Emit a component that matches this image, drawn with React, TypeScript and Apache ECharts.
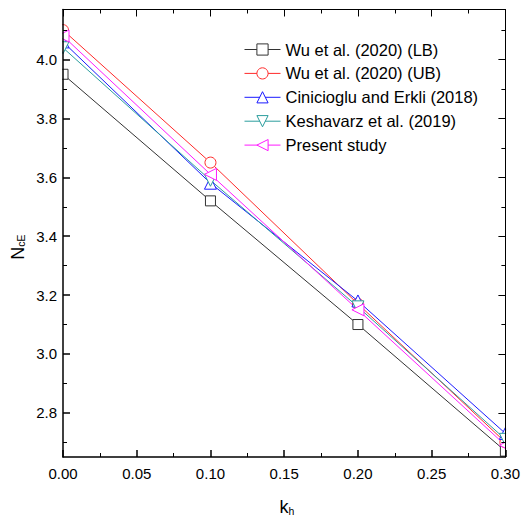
import React, { useEffect, useRef } from "react";
import * as echarts from "echarts";

const kh = [0, 0.1, 0.2, 0.3];
const wuLB = [3.95, 3.52, 3.1, 2.67];
const wuUB = [4.1, 3.65, 3.17, 2.7];
const cinicioglu = [4.06, 3.58, 3.18, 2.73];
const keshavarz = [4.04, 3.59, 3.16, 2.71];
const present = [4.08, 3.61, 3.15, 2.69];

const seriesNames = [
  "Wu et al. (2020) (LB)",
  "Wu et al. (2020) (UB)",
  "Cinicioglu and Erkli (2018)",
  "Keshavarz et al. (2019)",
  "Present study",
];

const yMajorTicks = [2.8, 3.0, 3.2, 3.4, 3.6, 3.8, 4.0];
const yMinorTicks = [2.7, 2.9, 3.1, 3.3, 3.5, 3.7, 3.9, 4.1];

const X_MIN = 0;
const X_MAX = 0.3;
const Y_MIN = 2.65;
const Y_MAX = 4.17;

const FONT = "'Liberation Sans', Arial, sans-serif";

export default function App() {
  const ref = useRef<HTMLDivElement>(null);
  useEffect(() => {
    if (!ref.current) return;
    const chart = echarts.init(ref.current, undefined, { renderer: "svg" });

    const mk = (
      name: string,
      vals: number[],
      color: string,
      symbol: string,
      rotate: number,
      size: number
    ) => ({
      name,
      type: "line",
      data: kh.map((x, i) => [x, vals[i]]),
      symbol,
      symbolRotate: rotate,
      symbolSize: size,
      showSymbol: true,
      lineStyle: { color, width: 1 },
      itemStyle: { color: "#ffffff", borderColor: color, borderWidth: 1 },
      z: 2,
      xAxisIndex: 0,
      yAxisIndex: 0,
    });

    const yBase = {
      type: "value",
      min: Y_MIN,
      max: Y_MAX,
      splitLine: { show: false },
      z: 100,
    };
    const xBase = {
      type: "value",
      min: X_MIN,
      max: X_MAX,
      interval: 0.05,
      splitLine: { show: false },
      z: 100,
    };

    // white masks left and right of the plot frame, so that markers sitting on
    // the frame are cut in half as in the reference
    const maskSeries = {
      type: "custom",
      name: "__mask",
      silent: true,
      z: 50,
      clip: false,
      xAxisIndex: 0,
      yAxisIndex: 0,
      data: [[X_MIN, Y_MIN]],
      renderItem: (_params: any, api: any) => {
        const pl = api.coord([X_MIN, Y_MAX]);
        const pr = api.coord([X_MAX, Y_MIN]);
        return {
          type: "group",
          children: [
            {
              type: "rect",
              shape: { x: 0, y: 0, width: pl[0] - 0.7, height: 600 },
              style: { fill: "#ffffff" },
            },
            {
              type: "rect",
              shape: { x: pr[0] + 0.7, y: 0, width: 40, height: 600 },
              style: { fill: "#ffffff" },
            },
          ],
        };
      },
    };

    chart.setOption({
      animation: false,
      backgroundColor: "#ffffff",
      grid: { left: 63, right: 15, top: 9.5, bottom: 61 },
      xAxis: [
        {
          ...xBase,
          position: "bottom",
          axisLine: { show: true, lineStyle: { color: "#000", width: 1.5 } },
          axisTick: { show: true, inside: true, length: 7, lineStyle: { color: "#000", width: 1.5 } },
          minorTick: { show: true, splitNumber: 2, length: 4, lineStyle: { color: "#000", width: 1 } },
          axisLabel: {
            formatter: (v: number) => v.toFixed(2),
            fontSize: 15,
            color: "#000",
            fontFamily: FONT,
            margin: 9,
          },
        },
        {
          ...xBase,
          position: "top",
          axisLine: { show: true, lineStyle: { color: "#000", width: 1 } },
          axisTick: { show: true, inside: true, length: 7, lineStyle: { color: "#000", width: 1 } },
          minorTick: { show: true, splitNumber: 2, length: 4, lineStyle: { color: "#000", width: 1 } },
          axisLabel: { show: false },
        },
      ],
      yAxis: [
        {
          ...yBase,
          position: "left",
          axisLine: { show: true, lineStyle: { color: "#000", width: 1.5 } },
          axisTick: { show: true, inside: true, length: 7, customValues: yMajorTicks, lineStyle: { color: "#000", width: 1.5 } },
          axisLabel: {
            customValues: yMajorTicks,
            formatter: (v: number) => v.toFixed(1),
            fontSize: 15,
            color: "#000",
            fontFamily: FONT,
            margin: 6,
          },
        },
        {
          ...yBase,
          position: "left",
          axisLine: { show: false },
          axisTick: { show: true, inside: true, length: 4, customValues: yMinorTicks, lineStyle: { color: "#000", width: 1 } },
          axisLabel: { show: false },
        },
        {
          ...yBase,
          position: "right",
          axisLine: { show: true, lineStyle: { color: "#000", width: 1 } },
          axisTick: { show: true, inside: true, length: 7, customValues: yMajorTicks, lineStyle: { color: "#000", width: 1 } },
          axisLabel: { show: false },
        },
        {
          ...yBase,
          position: "right",
          axisLine: { show: false },
          axisTick: { show: true, inside: true, length: 4, customValues: yMinorTicks, lineStyle: { color: "#000", width: 1 } },
          axisLabel: { show: false },
        },
      ],
      legend: {
        orient: "vertical",
        left: 244,
        top: 41,
        padding: 0,
        itemWidth: 36,
        itemHeight: 14,
        itemGap: 6.9,
        z: 100,
        data: seriesNames,
        itemStyle: { borderWidth: 1 },
        lineStyle: { width: 1 },
        textStyle: { fontSize: 16.5, color: "#000", fontFamily: FONT, lineHeight: 14 },
      },
      graphic: [
        {
          type: "text",
          z: 100,
          x: 18,
          y: 247,
          rotation: Math.PI / 2,
          style: {
            text: "{n|N}{s|cE}",
            align: "center",
            verticalAlign: "middle",
            rich: {
              n: { fontSize: 18, fontFamily: FONT, fill: "#000", color: "#000" },
              s: { fontSize: 10.5, fontFamily: FONT, fill: "#000", color: "#000", padding: [6, 0, 0, 0] },
            },
          },
        },
        {
          type: "text",
          z: 100,
          x: 287,
          y: 507,
          style: {
            text: "{n|k}{s|h}",
            align: "center",
            verticalAlign: "middle",
            rich: {
              n: { fontSize: 18, fontFamily: FONT, fill: "#000", color: "#000" },
              s: { fontSize: 10.5, fontFamily: FONT, fill: "#000", color: "#000", padding: [8, 0, 0, 0] },
            },
          },
        },
      ],
      series: [
        mk(seriesNames[0], wuLB, "#333333", "rect", 0, 10),
        mk(seriesNames[1], wuUB, "#ff2a2a", "circle", 0, 11),
        mk(seriesNames[2], cinicioglu, "#1a1aff", "triangle", 0, 12),
        mk(seriesNames[3], keshavarz, "#2a9d9d", "triangle", 180, 12),
        mk(seriesNames[4], present, "#ff1aff", "triangle", 90, 12),
        maskSeries,
      ],
    });
    return () => chart.dispose();
  }, []);
  return (
    <div
      ref={ref}
      style={{ position: "fixed", left: 0, top: 0, width: 523, height: 518, background: "#fff" }}
    />
  );
}
